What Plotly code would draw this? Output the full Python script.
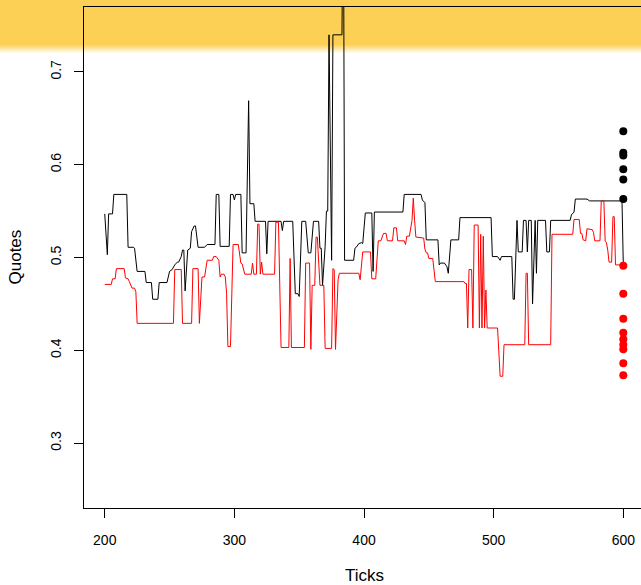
import plotly.graph_objects as go

# Quote paths (tick, quote) for the two sides of the book
black_ticks = [200, 202, 203, 206, 207, 217, 218, 222, 223, 225, 231, 232, 236, 237, 241, 242, 248,
               250, 252, 254, 256, 257, 259, 260, 261, 262, 264, 266, 267, 269, 270, 272, 277, 279,
               285, 286, 288, 289, 296, 297, 299, 300, 301, 305, 306, 309, 311, 312, 315, 316, 324,
               325, 326, 336, 337, 338, 345, 347, 349, 350, 352, 355, 357, 359, 361, 365, 366, 367,
               368, 370, 371, 372, 373, 375, 376, 383, 384, 385, 392, 393, 394, 396, 398, 399, 401,
               406, 407, 408, 430, 431, 444, 445, 447, 448, 457, 458, 459, 462, 464, 465, 467, 473,
               474, 498, 499, 503, 505, 506, 514, 515, 516, 518, 519, 522, 523, 525, 526, 527, 529,
               530, 532, 533, 534, 540, 541, 543, 544, 559, 560, 562, 563, 572, 574, 599, 600]
black_quotes = [0.547, 0.503, 0.547, 0.547, 0.568, 0.568, 0.511, 0.511, 0.510, 0.485, 0.485, 0.473,
                0.473, 0.455, 0.455, 0.473, 0.473, 0.485, 0.487, 0.492, 0.495, 0.495, 0.501, 0.508,
                0.508, 0.464, 0.508, 0.510, 0.528, 0.534, 0.534, 0.511, 0.511, 0.514, 0.514, 0.568,
                0.568, 0.512, 0.512, 0.568, 0.568, 0.562, 0.568, 0.568, 0.505, 0.505, 0.669, 0.558,
                0.558, 0.539, 0.539, 0.504, 0.539, 0.539, 0.529, 0.539, 0.539, 0.461, 0.461, 0.458,
                0.539, 0.539, 0.505, 0.505, 0.539, 0.539, 0.510, 0.510, 0.470, 0.512, 0.550, 0.550,
                0.740, 0.497, 0.740, 0.740, 0.950, 0.497, 0.497, 0.510, 0.511, 0.515, 0.516, 0.515,
                0.548, 0.548, 0.485, 0.549, 0.549, 0.568, 0.568, 0.562, 0.559, 0.519, 0.519, 0.492,
                0.494, 0.494, 0.490, 0.483, 0.519, 0.519, 0.543, 0.543, 0.501, 0.501, 0.497, 0.501,
                0.501, 0.455, 0.455, 0.540, 0.506, 0.506, 0.540, 0.540, 0.506, 0.540, 0.540, 0.450,
                0.540, 0.483, 0.540, 0.540, 0.506, 0.506, 0.540, 0.540, 0.546, 0.549, 0.563, 0.563,
                0.561, 0.561, 0.492]

red_ticks = [200, 205, 206, 208, 209, 215, 216, 218, 219, 220, 221, 223, 224, 225, 253, 254, 259,
             260, 267, 268, 272, 273, 275, 277, 279, 283, 284, 286, 288, 289, 290, 292, 293, 294,
             295, 297, 299, 303, 305, 306, 308, 313, 314, 315, 317, 318, 319, 320, 321, 322, 331,
             332, 334, 336, 342, 343, 344, 354, 355, 358, 359, 360, 362, 363, 364, 366, 369, 370,
             375, 376, 377, 378, 380, 381, 396, 397, 399, 405, 406, 409, 411, 413, 415, 417, 418,
             422, 423, 425, 426, 431, 432, 433, 435, 437, 438, 439, 440, 446, 447, 448, 449, 450,
             453, 455, 477, 478, 479, 480, 481, 483, 484, 485, 488, 489, 490, 491, 492, 493, 494,
             495, 503, 505, 507, 508, 524, 525, 526, 527, 544, 545, 561, 562, 566, 567, 568, 569,
             571, 572, 576, 577, 578, 582, 583, 585, 586, 587, 588, 589, 591, 592, 593, 594, 597,
             600]
red_quotes = [0.471, 0.471, 0.477, 0.477, 0.488, 0.488, 0.478, 0.477, 0.474, 0.470, 0.467, 0.467,
              0.463, 0.429, 0.429, 0.487, 0.487, 0.429, 0.429, 0.488, 0.488, 0.429, 0.479, 0.479,
              0.497, 0.497, 0.501, 0.501, 0.497, 0.479, 0.482, 0.482, 0.479, 0.461, 0.404, 0.404,
              0.514, 0.514, 0.494, 0.493, 0.482, 0.482, 0.494, 0.482, 0.482, 0.536, 0.536, 0.482,
              0.495, 0.482, 0.482, 0.538, 0.538, 0.403, 0.403, 0.499, 0.403, 0.403, 0.494, 0.494,
              0.401, 0.470, 0.470, 0.522, 0.522, 0.470, 0.470, 0.402, 0.402, 0.488, 0.487, 0.401,
              0.476, 0.483, 0.483, 0.476, 0.506, 0.506, 0.477, 0.477, 0.518, 0.518, 0.526, 0.526,
              0.518, 0.518, 0.532, 0.532, 0.518, 0.518, 0.514, 0.523, 0.523, 0.540, 0.564, 0.540,
              0.522, 0.521, 0.509, 0.505, 0.505, 0.499, 0.499, 0.474, 0.474, 0.472, 0.472, 0.424,
              0.487, 0.487, 0.424, 0.535, 0.535, 0.424, 0.525, 0.424, 0.523, 0.424, 0.465, 0.424,
              0.424, 0.372, 0.372, 0.406, 0.406, 0.483, 0.483, 0.406, 0.406, 0.525, 0.525, 0.541,
              0.541, 0.526, 0.526, 0.519, 0.518, 0.531, 0.530, 0.527, 0.518, 0.518, 0.561, 0.561,
              0.518, 0.516, 0.508, 0.495, 0.495, 0.544, 0.544, 0.492, 0.492, 0.492]

# Outstanding orders at the last tick
final_tick = 600
final_black = [0.636, 0.613, 0.610, 0.595, 0.584, 0.563]
final_red = [0.491, 0.461, 0.434, 0.419, 0.412, 0.406, 0.401, 0.386, 0.373]

x_tickvals = [200, 300, 400, 500, 600]
y_tickvals = [0.3, 0.4, 0.5, 0.6, 0.7]

W, H = 641, 585
ML, MT, MB = 84, 7, 77
FONT = "Liberation Sans, Arial, sans-serif"

fig = go.Figure()
fig.add_trace(go.Scatter(x=black_ticks, y=black_quotes, mode="lines",
                         line=dict(color="black", width=1)))
fig.add_trace(go.Scatter(x=red_ticks, y=red_quotes, mode="lines",
                         line=dict(color="red", width=1)))
fig.add_trace(go.Scatter(x=[final_tick] * len(final_black), y=final_black, mode="markers",
                         marker=dict(color="black", size=8, line=dict(width=0))))
fig.add_trace(go.Scatter(x=[final_tick] * len(final_red), y=final_red, mode="markers",
                         marker=dict(color="red", size=8, line=dict(width=0))))

plot_h = H - MT - MB
plot_w = W - ML


def py(p):
    """pixel row -> paper y"""
    return (H - MB - p) / plot_h


x0 = -ML / plot_w
shapes = [dict(type="rect", xref="paper", yref="paper", x0=x0, x1=1.0, y0=py(45), y1=py(-2),
               fillcolor="#FCD055", line=dict(width=0), layer="below")]
# soft lower edge of the banner
for i in range(8):
    shapes.append(dict(type="rect", xref="paper", yref="paper", x0=x0, x1=1.0,
                       y0=py(46 + i), y1=py(45 + i), fillcolor="#FCD055",
                       opacity=1 - (i + 1) / 9, line=dict(width=0), layer="below"))

fig.update_layout(
    width=W, height=H,
    margin=dict(l=ML, r=0, t=MT, b=MB, pad=0),
    paper_bgcolor="white", plot_bgcolor="rgba(0,0,0,0)",
    showlegend=False,
    font=dict(family=FONT, color="black", size=14),
    shapes=shapes,
    xaxis=dict(range=[184, 184 + plot_w / 1.2964], tickvals=x_tickvals,
               ticks="outside", ticklen=9, tickcolor="black", tickwidth=1,
               showline=True, linecolor="black", linewidth=1, mirror=True,
               showgrid=False, zeroline=False, ticklabelstandoff=10,
               tickfont=dict(size=14)),
    yaxis=dict(range=[0.23, 0.77], tickvals=y_tickvals, tickangle=-90,
               ticks="outside", ticklen=9, tickcolor="black", tickwidth=1,
               showline=True, linecolor="black", linewidth=1, mirror=False,
               showgrid=False, zeroline=False, ticklabelstandoff=7,
               tickfont=dict(size=14)),
    annotations=[
        dict(text="Ticks", xref="paper", yref="paper", x=(364 - ML) / plot_w, y=py(575),
             showarrow=False, font=dict(size=17), xanchor="center", yanchor="middle"),
        dict(text="Quotes", xref="paper", yref="paper", x=15 / plot_w - ML / plot_w, y=0.5,
             showarrow=False, font=dict(size=17), textangle=-90,
             xanchor="center", yanchor="middle"),
    ],
)

fig.write_html("out.html")
